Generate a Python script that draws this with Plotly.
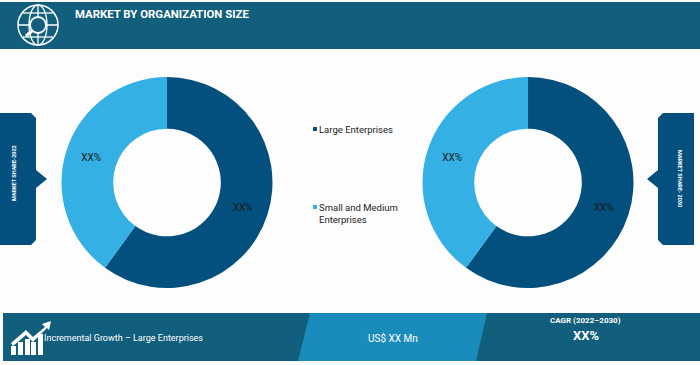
import plotly.graph_objects as go

W, H = 700, 365
categories = ["Large Enterprises", "Small and Medium Enterprises"]
share_2022 = [60, 40]
share_2030 = [60, 40]
slice_labels = ["XX%", "XX%"]
title = "MARKET BY ORGANIZATION SIZE"
tab_left = "MARKET SHARE-2022"
tab_right = "MARKET SHARE- 2030"
band_texts = ["Incremental Growth – Large Enterprises", "US$ XX Mn", "CAGR (2022–2030)", "XX%"]

DARK = "#115E7D"; BLUE = "#1A8CBB"; NAVY = "#03507F"; SKY = "#35B0E5"; PAGE = "#FDFDFD"
BODY = "Roboto"

def X(p): return p / W
def Y(p): return 1 - p / H

def path(points):
    return "M" + " L".join(f"{X(a):.5f},{Y(b):.5f}" for a, b in points) + " Z"

shapes = []
def poly(points, fill, layer="below"):
    shapes.append(dict(type="path", xref="paper", yref="paper", path=path(points),
                       fillcolor=fill, line=dict(width=0), layer=layer))
def rect(x0, y0, x1, y1, fill):
    poly([(x0, y0), (x1, y0), (x1, y1), (x0, y1)], fill)
def line(x0, y0, x1, y1, w=1.3):
    shapes.append(dict(type="line", xref="paper", yref="paper", x0=X(x0), y0=Y(y0), x1=X(x1), y1=Y(y1),
                       line=dict(color="white", width=w), layer="above"))
def oval(cx, cy, rx, ry, w=1.3, fill="rgba(0,0,0,0)"):
    shapes.append(dict(type="circle", xref="paper", yref="paper", x0=X(cx-rx), x1=X(cx+rx), y0=Y(cy-ry), y1=Y(cy+ry),
                       line=dict(color="white", width=w), fillcolor=fill, layer="above"))

# header
rect(0, 2, 700, 49, DARK)
# globe icon
oval(38, 25, 20, 20, 1.5)
oval(38, 25, 9, 20)
line(38, 5, 38, 45)
line(18, 25, 58, 25)
line(23, 13, 53, 13); line(23, 37, 53, 37)
oval(38, 25, 8, 8, 1.8, DARK)
line(32, 31, 26, 36, 3)
# side tabs
poly([(0,113),(31,113),(36,118),(36,170),(47,179),(36,188),(36,240),(31,245),(0,245)], NAVY)
poly([(663,113),(694,113),(694,245),(663,245),(658,240),(658,188),(647,179),(658,170),(658,118)], NAVY)
# bottom band
rect(3, 313, 700, 361, DARK)
poly([(310,313),(487,313),(476,361),(298,361)], BLUE)
# growth icon
for bx, top in [(11,346),(18,342),(25,339),(31,342),(38,334)]:
    poly([(bx,top),(bx+5,top),(bx+5,355),(bx,355)], "white", "above")
poly([(11,343),(26,330),(33,337),(45,327),(42,324),(51,321),(49,330),(47,328),(33,342),(26,335),(13,346)], "white", "above")
# legend squares
rect(313, 127, 317, 131, NAVY)
rect(313, 205, 317, 209, SKY)

def donut(vals, x0, x1, y0, y1):
    return go.Pie(labels=categories, values=vals, text=slice_labels, textinfo="text",
                  textposition="inside", insidetextorientation="horizontal",
                  textfont=dict(family=BODY, size=10, color="#1a1a1a"),
                  hole=0.51, sort=False, direction="clockwise", rotation=0,
                  marker=dict(colors=[NAVY, SKY], line=dict(width=0)),
                  showlegend=False, domain=dict(x=[X(x0), X(x1)], y=[Y(y1), Y(y0)]))

fig = go.Figure([donut(share_2022, 61.5, 272.5, 77, 288),
                 donut(share_2030, 422.5, 633.5, 77, 288)])

def note(x, y, text, size=10, color="white", angle=0, anchor="center", bold=False):
    if bold: text = f"<b>{text}</b>"
    return dict(xref="paper", yref="paper", x=X(x), y=Y(y), text=text, showarrow=False, xanchor=anchor,
                yanchor="middle", textangle=angle, align="left",
                font=dict(family=BODY, size=size, color=color))

annotations = [
    note(73, 14, title, 11.4, anchor="left", bold=True),
    note(317, 129.5, categories[0], 9.5, "#222222", anchor="left"),
    note(317, 213, "Small and Medium<br>Enterprises", 9.5, "#222222", anchor="left"),
    note(14, 173, tab_left, 5.5, angle=-90, bold=True),
    note(680, 178, tab_right, 5.5, angle=90, bold=True),
    note(42, 338, band_texts[0], 9, anchor="left"),
    note(393, 338, band_texts[1], 10),
    note(585, 320, band_texts[2], 8, bold=True),
    note(586, 335, band_texts[3], 13, bold=True),
]

fig.update_layout(width=W, height=H, autosize=False, margin=dict(l=0, r=0, t=0, b=0),
                  paper_bgcolor=PAGE, plot_bgcolor=PAGE,
                  shapes=shapes, annotations=annotations)
fig.write_html("out.html", config={"displayModeBar": False},
               post_script=f"document.body.style.margin='0';document.body.style.background='{PAGE}';document.body.style.overflow='hidden';")
